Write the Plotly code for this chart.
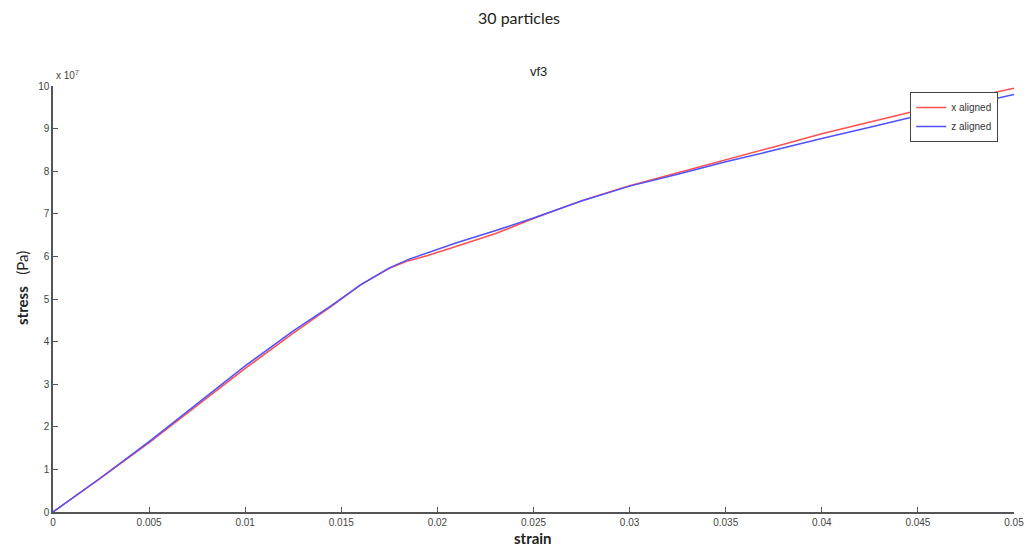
import plotly.graph_objects as go

# strain values (dimensionless)
strain = [0, 0.0025, 0.005, 0.0075, 0.01, 0.0125, 0.0145, 0.016, 0.0175, 0.0185,
          0.0195, 0.021, 0.023, 0.025, 0.0275, 0.03, 0.0325, 0.035, 0.0375, 0.04,
          0.0425, 0.045, 0.0475, 0.05]

# stress in units of 1e7 Pa
stress_x_aligned = [0, 0.80, 1.63, 2.50, 3.37, 4.20, 4.83, 5.33, 5.72, 5.90,
                    6.02, 6.24, 6.53, 6.89, 7.31, 7.66, 7.96, 8.27, 8.57, 8.88,
                    9.15, 9.43, 9.70, 9.95]
stress_z_aligned = [0, 0.81, 1.65, 2.55, 3.43, 4.25, 4.85, 5.33, 5.73, 5.93,
                    6.09, 6.32, 6.60, 6.90, 7.30, 7.65, 7.93, 8.22, 8.49, 8.77,
                    9.03, 9.30, 9.55, 9.80]

x_ticks = [0, 0.005, 0.01, 0.015, 0.02, 0.025, 0.03, 0.035, 0.04, 0.045, 0.05]
x_tick_labels = ["0", "0.005", "0.01", "0.015", "0.02", "0.025", "0.03", "0.035", "0.04", "0.045", "0.05"]
y_ticks = [0, 1, 2, 3, 4, 5, 6, 7, 8, 9, 10]
y_tick_labels = [str(v) for v in y_ticks]

fig = go.Figure()
fig.add_trace(go.Scatter(x=strain, y=stress_x_aligned, mode="lines", name="x aligned",
                         line=dict(color="rgb(255,80,80)", width=1.5)))
fig.add_trace(go.Scatter(x=strain, y=stress_z_aligned, mode="lines", name="z aligned",
                         line=dict(color="rgb(80,80,255)", width=1.5)))

axis_common = dict(showgrid=False, zeroline=False, showline=True, linecolor="#555555",
                   linewidth=1.5, ticks="inside", ticklen=5, tickcolor="#555555",
                   automargin=False,
                   tickfont=dict(family="Liberation Sans, Arial", size=10, color="#444444"))

fig.update_layout(
    width=1029, height=549,
    margin=dict(l=53, r=15, t=86, b=37, autoexpand=False),
    plot_bgcolor="white", paper_bgcolor="white",
    xaxis=dict(range=[0, 0.05], tickvals=x_ticks, ticktext=x_tick_labels, **axis_common),
    yaxis=dict(range=[0, 10], tickvals=y_ticks, ticktext=y_tick_labels, **axis_common),
    showlegend=True,
    legend=dict(x=0.892, y=0.986, xanchor="left", yanchor="top",
                bgcolor="white", bordercolor="#444444", borderwidth=1,
                font=dict(family="Liberation Sans, Arial", size=10, color="#333333"),
                tracegroupgap=0, itemwidth=30),
    annotations=[
        dict(text="30 particles", x=0.485, y=1 + (86 - 18) / 426, xref="paper", yref="paper",
             showarrow=False, yanchor="middle",
             font=dict(family="Lato, Open Sans", size=16, color="#222222")),
        dict(text="vf3", x=(538 - 53) / 961, y=(512 - 71) / 426, xref="paper", yref="paper",
             showarrow=False, yanchor="middle",
             font=dict(family="Liberation Sans, Arial", size=13, color="#222222")),
        dict(text="x 10<sup>7</sup>", x=0.0, y=1.0, xref="paper", yref="paper", xanchor="left",
             yanchor="bottom", xshift=1, yshift=3, showarrow=False,
             font=dict(family="Liberation Sans, Arial", size=10, color="#444444")),
        dict(text="<b>strain</b>", x=(533 - 53) / 961, y=0, xref="paper", yref="paper",
             yshift=-26, showarrow=False, yanchor="middle",
             font=dict(family="Lato, Open Sans", size=15, color="#222222")),
        dict(text="<b>stress</b>   (Pa)", x=0, y=(512 - 288) / 426, xref="paper", yref="paper",
             xshift=-31, showarrow=False, textangle=-90, xanchor="center",
             font=dict(family="Lato, Open Sans", size=15, color="#222222")),
    ],
)

fig.write_html("out.html", config={"displayModeBar": False},
               post_script="document.body.style.margin='0';document.body.style.overflow='hidden';")
